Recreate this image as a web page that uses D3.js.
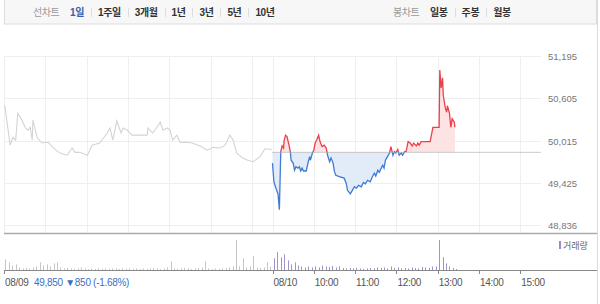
<!DOCTYPE html>
<html>
<head>
<meta charset="utf-8">
<script src="https://cdn.jsdelivr.net/npm/d3@7"></script>
<style>
  body { margin: 0; background: #fff; }
  svg { font-family: "Liberation Sans", "Noto Sans CJK KR", sans-serif; display: block; }
</style>
</head>
<body>
<svg id="chart" width="600" height="304"></svg>
<script>
// ---- data ----
const lineTabs = ["1일", "1주일", "3개월", "1년", "3년", "5년", "10년"];
const candleTabs = ["일봉", "주봉", "월봉"];

const prevClose = 49850;
const priceTicks = [51195, 50605, 50015, 49425, 48836];
const priceTickLabels = ["51,195", "50,605", "50,015", "49,425", "48,836"];

// session minutes (0..390 = day 1, 390..780 = day 2)
const timeTicks = [0, 390, 450, 510, 570, 630, 690, 750];
const timeTickLabels = ["08/09", "08/10", "10:00", "11:00", "12:00", "13:00", "14:00", "15:00"];
const gridMinutes = [60, 120, 180, 240, 300, 360, 390, 450, 510, 570, 630, 690, 750];

// 08/09 minutes after 09:00 and prices
const day1Minutes = [1, 9, 13, 17, 20, 26, 31, 35, 38, 41, 42, 48, 55, 64, 71, 81, 92, 99, 103, 110,
  121, 128, 139, 150, 154, 158, 164, 170, 173, 179, 186, 208, 209, 216, 222, 227, 231, 237, 241, 245,
  251, 256, 266, 273, 285, 295, 304, 314, 321, 328, 333, 338, 347, 354, 362, 372, 379, 389];
const day1Prices = [50510, 49950, 50060, 50020, 50400, 50300, 50190, 50160, 50200, 50020, 50300, 50060, 49980, 49990, 49920, 49840, 49810, 49910, 49850, 49850,
  49810, 49950, 49980, 50120, 50190, 50020, 50290, 50120, 50190, 50160, 50090, 50090, 50190, 50120, 50200, 50270, 50160, 50190, 50160, 50020,
  50090, 49990, 49990, 49980, 49940, 49880, 49920, 49910, 49950, 50090, 50020, 49840, 49770, 49740, 49720, 49790, 49900, 49890];

// 08/10 minutes after 09:00 and prices
const day2Minutes = [0, 2, 5, 8, 10, 12, 14, 16, 17, 19, 21, 24, 26, 27, 30, 32, 34, 37, 39, 41,
  43, 45, 49, 52, 54, 55, 58, 60, 62, 64, 67, 69, 72, 75, 78, 80, 83, 85, 88, 90,
  92, 97, 104, 107, 109, 113, 116, 119, 122, 125, 129, 132, 135, 138, 142, 145, 148, 150, 153, 155,
  158, 160, 162, 164, 167, 170, 172, 175, 177, 179, 182, 184, 187, 189, 192, 194, 197, 200, 203, 205,
  209, 211, 213, 216, 229, 233, 242, 243, 245, 247, 248, 251, 253, 254, 257, 259, 261, 264, 265];
const day2Prices = [49700, 49440, 49350, 49270, 49050, 49860, 49940, 49910, 50020, 50090, 50070, 49950, 49850, 49740, 49700, 49600, 49650, 49630, 49650, 49590,
  49630, 49590, 49590, 49720, 49790, 49740, 49840, 49880, 49980, 50020, 50090, 50000, 49930, 49950, 49910, 49810, 49720, 49770, 49700, 49580,
  49530, 49510, 49490, 49420, 49320, 49270, 49320, 49370, 49350, 49390, 49370, 49430, 49410, 49460, 49440, 49510, 49560, 49520, 49600, 49570,
  49630, 49670, 49630, 49740, 49790, 49840, 49930, 49810, 49860, 49840, 49890, 49810, 49840, 49810, 49860, 49860, 50000, 49980, 49940, 49980,
  49940, 49980, 49950, 50000, 50000, 50200, 50200, 51000, 50750, 50890, 50650, 50470, 50410, 50500, 50400, 50200, 50320, 50270, 50200];

// volume per 5-minute bar (relative units)
const day1Volume = [110, 80, 50, 60, 30, 20, 25, 20, 30, 40, 80, 50, 60, 40, 70, 80, 30, 20, 25, 20,
  15, 20, 30, 20, 15, 20, 15, 20, 15, 20, 15, 20, 20, 15, 20, 15, 20, 15, 20, 15,
  20, 15, 20, 25, 20, 15, 20, 30, 90, 20, 15, 20, 25, 20, 15, 20, 25, 30, 90, 20,
  15, 20, 15, 20, 25, 30, 40, 300, 40, 120, 30, 40, 140, 30, 25, 30, 80, 40];
const day2Volume = [120, 180, 130, 160, 100, 60, 80, 50, 40, 30, 40, 30, 40, 30, 50, 40, 35, 45, 30, 40,
  25, 20, 25, 20, 25, 20, 15, 20, 25, 20, 30, 25, 30, 20, 40, 25, 30, 20, 25, 20,
  30, 25, 20, 35, 30, 25, 40, 40, 300, 130, 70, 40, 25, 15];

// ---- drawing ----
const svg = d3.select("#chart");
const left = 4, right = 541, frameRight = 597;

const x = d3.scaleLinear().domain([0, 780]).range([left, right]);
const y = d3.scaleLinear().domain([priceTicks[4], priceTicks[0]]).range([225, 56]);
const yVol = d3.scaleLinear().domain([0, 300]).range([270.5, 240]);

// tab bar
svg.append("rect").attr("x", left + 0.5).attr("y", -1).attr("width", frameRight - left - 1).attr("height", 25)
  .attr("fill", "#f7f7f7").attr("stroke", "#dcdcdc");

function tabGroup(title, titleX, items, startX) {
  svg.append("text").attr("x", titleX).attr("y", 16).attr("font-size", 10)
    .attr("letter-spacing", -0.4).attr("fill", "#999").text(title);
  let cx = startX;
  items.forEach((t, i) => {
    const txt = svg.append("text").attr("x", cx).attr("y", 16).attr("font-size", 10)
      .attr("letter-spacing", -0.4).attr("font-weight", "bold")
      .attr("fill", (title === "선차트" && i === 0) ? "#2e5fb3" : "#333").text(t);
    const w = txt.node().getComputedTextLength();
    cx += w;
    if (i < items.length - 1) {
      svg.append("line").attr("x1", Math.round(cx + 7) + 0.5).attr("x2", Math.round(cx + 7) + 0.5)
        .attr("y1", 8).attr("y2", 17).attr("stroke", "#ddd");
      cx += 14;
    }
  });
}
tabGroup("선차트", 33, lineTabs, 70);
tabGroup("봉차트", 393, candleTabs, 430);

// right frame
svg.append("line").attr("x1", frameRight + 0.5).attr("x2", frameRight + 0.5).attr("y1", 0).attr("y2", 304)
  .attr("stroke", "#dcdcdc");

// price grid
svg.append("g").selectAll("line").data(priceTicks).join("line")
  .attr("x1", left).attr("x2", right)
  .attr("y1", d => Math.round(y(d)) + 0.5).attr("y2", d => Math.round(y(d)) + 0.5)
  .attr("stroke", "#efefef");
svg.append("g").selectAll("line").data([0].concat(gridMinutes)).join("line")
  .attr("x1", d => Math.round(x(d)) + 0.5).attr("x2", d => Math.round(x(d)) + 0.5)
  .attr("y1", 56).attr("y2", 233)
  .attr("stroke", "#efefef");

// price labels
svg.append("g").selectAll("text").data(priceTicks).join("text")
  .attr("x", 548).attr("y", d => y(d) + 4)
  .attr("font-size", 9.5).attr("fill", "#777")
  .text((d, i) => priceTickLabels[i]);

// day 1 grey line
const day1 = day1Minutes.map((m, i) => ({ m: m, p: day1Prices[i] }));
svg.append("path").datum(day1)
  .attr("d", d3.line().x(d => x(d.m)).y(d => y(d.p)))
  .attr("fill", "none").attr("stroke", "#d4d4d4").attr("stroke-width", 1.1);

// day 2 split around previous close
const base = y(prevClose);
const day2 = day2Minutes.map((m, i) => ({ m: 390 + m, p: day2Prices[i] }));
const defs = svg.append("defs");
defs.append("clipPath").attr("id", "clipUp").append("rect")
  .attr("x", 0).attr("y", 0).attr("width", 600).attr("height", base);
defs.append("clipPath").attr("id", "clipDown").append("rect")
  .attr("x", 0).attr("y", base).attr("width", 600).attr("height", 304 - base);

const area = d3.area().x(d => x(d.m)).y0(base).y1(d => y(d.p));
const line = d3.line().x(d => x(d.m)).y(d => y(d.p));

[["clipUp", "#fde3e4", "#e8414c"], ["clipDown", "#e2ecf8", "#3f7bd3"]].forEach(([id, fill, stroke]) => {
  const g = svg.append("g").attr("clip-path", `url(#${id})`);
  g.append("path").datum(day2).attr("d", area).attr("fill", fill);
  g.append("path").datum(day2).attr("d", line).attr("fill", "none")
    .attr("stroke", stroke).attr("stroke-width", 1.3);
});

// previous close dotted line
svg.append("line").attr("x1", x(390)).attr("x2", right)
  .attr("y1", base).attr("y2", base)
  .attr("stroke", "#999").attr("stroke-dasharray", "1,1");

// separator between price and volume panes
svg.append("line").attr("x1", left).attr("x2", frameRight)
  .attr("y1", 233.5).attr("y2", 233.5).attr("stroke", "#aaa").attr("stroke-width", 1.5);

// volume bars
svg.append("g").selectAll("rect").data(day1Volume).join("rect")
  .attr("x", (d, i) => Math.round(x(i * 5 + 2))).attr("width", 1)
  .attr("y", d => yVol(d)).attr("height", d => yVol(0) - yVol(d))
  .attr("fill", "#c6c6c6");
svg.append("g").selectAll("rect").data(day2Volume).join("rect")
  .attr("x", (d, i) => Math.round(x(390 + i * 5 + 2))).attr("width", 1)
  .attr("y", d => yVol(d)).attr("height", d => yVol(0) - yVol(d))
  .attr("fill", "#a491cf");

// volume baseline + time axis
svg.append("line").attr("x1", left).attr("x2", frameRight)
  .attr("y1", 270.5).attr("y2", 270.5).attr("stroke", "#888");
svg.append("g").selectAll("line").data(timeTicks).join("line")
  .attr("x1", d => Math.round(x(d)) + 0.5).attr("x2", d => Math.round(x(d)) + 0.5)
  .attr("y1", 270).attr("y2", 274).attr("stroke", "#888");
svg.append("g").selectAll("text").data(timeTicks).join("text")
  .attr("x", d => x(d) + 1).attr("y", 286)
  .attr("font-size", 10).attr("letter-spacing", -0.3).attr("fill", "#555")
  .text((d, i) => timeTickLabels[i]);

// previous day summary
svg.append("text").attr("x", 34).attr("y", 286).attr("font-size", 10).attr("letter-spacing", -0.3)
  .attr("fill", "#3b6fc6").text("49,850 ▼850 (-1.68%)");

// volume legend
svg.append("rect").attr("x", 559).attr("y", 241).attr("width", 2).attr("height", 8).attr("fill", "#9c88cc");
svg.append("text").attr("x", 563).attr("y", 249).attr("font-size", 9).attr("fill", "#666").text("거래량");
</script>
</body>
</html>
